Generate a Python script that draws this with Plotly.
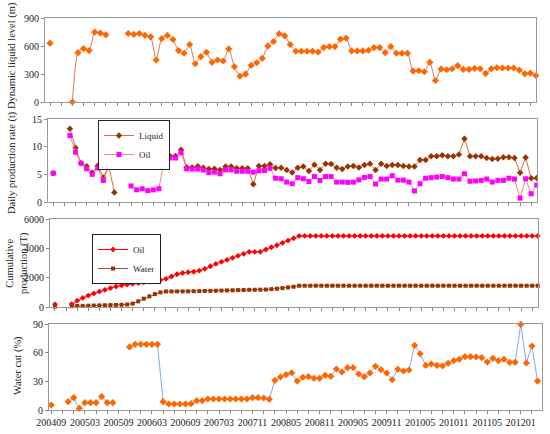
import plotly.graph_objects as go
from plotly.subplots import make_subplots

# months on the category axis (a few months are missing in the record)
months = [
    "200409", "200410", "200411", "200412", "200501", "200502",
    "200503", "200504", "200505", "200506", "200507", "200508",
    "200509", "200510", "200511", "200512", "200601", "200602",
    "200603", "200604", "200605", "200606", "200607", "200608",
    "200609", "200610", "200611", "200612", "200701", "200702",
    "200703", "200704", "200705", "200706", "200707", "200710",
    "200711", "200712", "200801", "200802", "200803", "200804",
    "200805", "200806", "200807", "200808", "200809", "200810",
    "200811", "200812", "200901", "200902", "200903", "200904",
    "200905", "200906", "200907", "200908", "200909", "200910",
    "200911", "200912", "201001", "201002", "201003", "201004",
    "201005", "201006", "201007", "201008", "201009", "201010",
    "201011", "201012", "201101", "201102", "201103", "201104",
    "201105", "201106", "201107", "201108", "201111", "201112",
    "201201", "201202", "201203", "201204",
]
tick_labels = ["200409", "200503", "200509", "200603", "200609", "200703", "200711",
               "200805", "200811", "200905", "200911", "201005", "201011", "201105", "201201"]

N = None
# dynamic liquid level (m)
level = [630, N, N, N, 0, 529, 572, 551, 749, 738, 720, N, N, N,
         734, 724, 734, 713, 698, 450, 680, 713, 670, 551, 522, 616, 410, 486, 533, 425,
         450, 439, 569, 378, 277, 299, 392, 421, 468, 601, 648, 731, 709, 616, 544, 544,
         544, 544, 536, 583, 594, 594, 673, 684, 547, 547, 547, 554, 583, 583, 529, 594,
         522, 522, 522, 331, 335, 324, 425, 230, 353, 346, 356, 389, 349, 349, 360, 356,
         306, 356, 367, 364, 364, 364, 342, 302, 310, 284]

# daily production rate (t)
liquid_rate = [5.2, N, N, 13.25, 9.8, 7.0, 6.45, 5.3, 6.55, 4.45, 6.5, 1.7, N, N,
               8.37, 6.57, 7.2, 6.5, 6.57, 7.2, 8.43, 8.3, 8.3, 9.45, 6.3, 6.25, 6.45, 6.2,
               5.95, 6.0, 5.8, 6.4, 6.4, 6.1, 6.1, 6.1, 3.2, 6.5, 6.5, 6.8, 6.15, 6.2, 5.8,
               5.35, 6.2, 6.4, 5.6, 6.75, 5.8, 6.9, 6.85, 6.2, 5.95, 6.4, 6.5, 6.25, 6.7, 6.9,
               5.8, 6.9, 6.5, 6.7, 6.7, 6.5, 6.4, 6.4, 7.6, 7.6, 8.25, 8.25, 8.45, 8.25, 8.25,
               8.6, 11.45, 8.25, 8.25, 8.25, 7.95, 7.75, 7.8, 8.1, 8.1, 7.95, 5.3, 8.05, 4.3, 4.35]
oil_rate = [5.2, N, N, 12.0, 9.0, 7.0, 6.0, 5.0, 6.15, 3.9, 6.25, 6.25, N, N,
            2.9, 2.2, 2.4, 2.05, 2.2, 2.4, 7.7, 7.95, 7.95, 8.9, 6.0, 5.95, 5.95, 5.8,
            5.3, 5.4, 5.1, 5.8, 5.8, 5.55, 5.55, 5.55, 5.4, 5.65, 5.7, 6.1, 4.3, 4.2, 3.6,
            3.3, 4.4, 4.2, 3.7, 4.6, 3.9, 4.6, 4.6, 3.6, 3.6, 3.55, 3.6, 4.0, 4.45, 4.6,
            3.25, 4.15, 4.15, 4.75, 3.95, 3.95, 3.6, 2.0, 3.3, 4.3, 4.4, 4.5, 4.6, 4.4, 4.15,
            4.15, 5.1, 3.75, 3.8, 3.9, 4.15, 3.6, 3.9, 3.9, 4.3, 4.15, 0.7, 4.2, 1.5, 3.05]

# cumulative production (T)
cum_oil = [180, N, N, 200, 430, 620, 780, 920, 1050, 1170, 1290, 1400, 1480, 1530,
           1580, 1630, 1690, 1740, 1790, 1840, 1920, 2080, 2230, 2320, 2370, 2400, 2480,
           2600, 2780, 2940, 3080, 3210, 3350, 3490, 3620, 3760, 3760, 3760, 3920, 4075,
           4210, 4370, 4530, 4690] + [4845] * 44
cum_water = [20, N, N, 50, 70, 80, 90, 100, 110, 120, 130, 140, 150, 170,
             230, 385, 570, 725, 880, 1000, 1060, 1065, 1065, 1065, 1070, 1075, 1080,
             1090, 1100, 1110, 1120, 1130, 1140, 1150, 1160, 1170, 1175, 1180, 1190, 1220,
             1250, 1290, 1335, 1380] + [1450] * 44

# water cut (%)
water_cut = [5.2, N, N, 8.7, 12.9, 1.7, 7.7, 7.7, 7.7, 14.0, 7.7, 7.7, N, N,
             66, 68.7, 68.7, 68.7, 68.7, 68.7, 8.7, 6.3, 6.3, 6.3, 6.3, 6.6, 9.8, 9.8,
             11.5, 11.5, 11.5, 11.5, 11.5, 11.5, 11.5, 11.5, 12.9, 12.9, 12.6, 11.2, 31,
             34.5, 37, 39, 30.3, 34.2, 34.9, 33.1, 33.1, 36.3, 35.2, 42.9, 39.8, 44.3, 44.3,
             37.7, 34.9, 38.7, 45.7, 42.2, 38.7, 31.7, 42.6, 40.8, 41.9, 67.7, 58.9, 46.7,
             48.1, 46.7, 46, 48.8, 51.6, 53, 55.8, 55.8, 55.5, 54.8, 50.2, 54.1, 51.6, 53,
             49.9, 49.9, 89.6, 49.2, 67, 30.3]

FONT = "Liberation Serif"

fig = make_subplots(rows=4, cols=1)

fig.add_trace(go.Scatter(x=months, y=level, mode="lines+markers", showlegend=False,
                         line=dict(color="#E07848", width=1, shape="spline", smoothing=0.6),
                         marker=dict(symbol="diamond", size=5.5, color="#FF6600"),
                         cliponaxis=False), row=1, col=1)

fig.add_trace(go.Scatter(x=months, y=liquid_rate, mode="lines+markers", name="Liquid",
                         legend="legend",
                         line=dict(color="#D0704C", width=1),
                         marker=dict(symbol="diamond", size=5, color="#993300")), row=2, col=1)
fig.add_trace(go.Scatter(x=months, y=oil_rate, mode="lines+markers", name="Oil",
                         legend="legend",
                         line=dict(color="#FF8080", width=1),
                         marker=dict(symbol="square", size=5, color="#FF00FF")), row=2, col=1)

fig.add_trace(go.Scatter(x=months, y=cum_oil, mode="lines+markers", name="Oil",
                         legend="legend2",
                         line=dict(color="#FF0000", width=1),
                         marker=dict(symbol="diamond", size=4.5, color="#FF0000"),
                         cliponaxis=False), row=3, col=1)
fig.add_trace(go.Scatter(x=months, y=cum_water, mode="lines+markers", name="Water",
                         legend="legend2",
                         line=dict(color="#A0522D", width=1),
                         marker=dict(symbol="square", size=4, color="#993300"),
                         cliponaxis=False), row=3, col=1)

fig.add_trace(go.Scatter(x=months, y=water_cut, mode="lines+markers", showlegend=False,
                         line=dict(color="#7FA8F0", width=1),
                         marker=dict(symbol="diamond", size=5.5, color="#FF6600"),
                         cliponaxis=False), row=4, col=1)

# panel placement, pixels of the 550x434 page
W, H = 550, 434
boxes = [(45, 536, 18, 102), (48, 537, 119, 202), (50, 538, 219, 307), (49, 542, 324, 410)]
xranges = [[-0.9, 87.0], [-0.95, 87.05], [-0.9, 87.05], [-0.42, 87.8]]
yranges = [[0, 900], [0, 15], [0, 6000], [0, 90]]
yticks = [[0, 300, 600, 900], [0, 5, 10, 15], [0, 2000, 4000, 6000], [0, 30, 60, 90]]

tickvals = months[::2]
ticktext = [m if m in tick_labels else "" for m in tickvals]

for i in range(4):
    x0, x1, y0, y1 = boxes[i]
    xa = "xaxis" if i == 0 else f"xaxis{i + 1}"
    ya = "yaxis" if i == 0 else f"yaxis{i + 1}"
    fig.layout[xa].update(
        domain=[x0 / W, x1 / W], type="category", range=xranges[i], automargin=False,
        tickvals=tickvals, ticktext=ticktext, showticklabels=(i == 3),
        ticks="outside", ticklen=3, tickcolor="#888", showgrid=False, zeroline=False,
        showline=True, linecolor="#999", linewidth=1, mirror=True,
        tickfont=dict(family=FONT, size=10, color="#222"), tickangle=0)
    fig.layout[ya].update(
        domain=[1 - y1 / H, 1 - y0 / H], range=yranges[i], tickvals=yticks[i],
        automargin=False,
        ticks="outside", ticklen=3, tickcolor="#888", showgrid=False, zeroline=False,
        showline=True, linecolor="#999", linewidth=1, mirror=True,
        tickfont=dict(family=FONT, size=10, color="#222"))

titles = [("Dynamic liquid level (m)", 12, 56),
          ("Daily production rate (t)", 12, 163),
          ("Cumulative<br>production (T)", 17, 263),
          ("Water cut (%)", 18, 366)]
for text, px, py in titles:
    fig.add_annotation(text=text, xref="paper", yref="paper", x=px / W, y=1 - py / H,
                       textangle=-90, showarrow=False, xanchor="center", yanchor="middle",
                       font=dict(family=FONT, size=10.5, color="#222"))

fig.update_layout(
    width=W, height=H, margin=dict(l=0, r=0, t=0, b=0, autoexpand=False),
    paper_bgcolor="white", plot_bgcolor="white",
    legend=dict(x=98 / W, y=1 - 120 / H, xanchor="left", yanchor="top",
                bordercolor="#222", borderwidth=1, bgcolor="white", itemwidth=30,
                font=dict(family=FONT, size=9, color="#222"), tracegroupgap=0),
    legend2=dict(x=92 / W, y=1 - 234 / H, xanchor="left", yanchor="top",
                 bordercolor="#222", borderwidth=1, bgcolor="white", itemwidth=30,
                 font=dict(family=FONT, size=9, color="#222"), tracegroupgap=0),
)

# the page body has a default 8px margin; drop it so the figure fills the window
fig.write_html("out.html", config={"displayModeBar": False},
               post_script="document.body.style.margin='0';")
